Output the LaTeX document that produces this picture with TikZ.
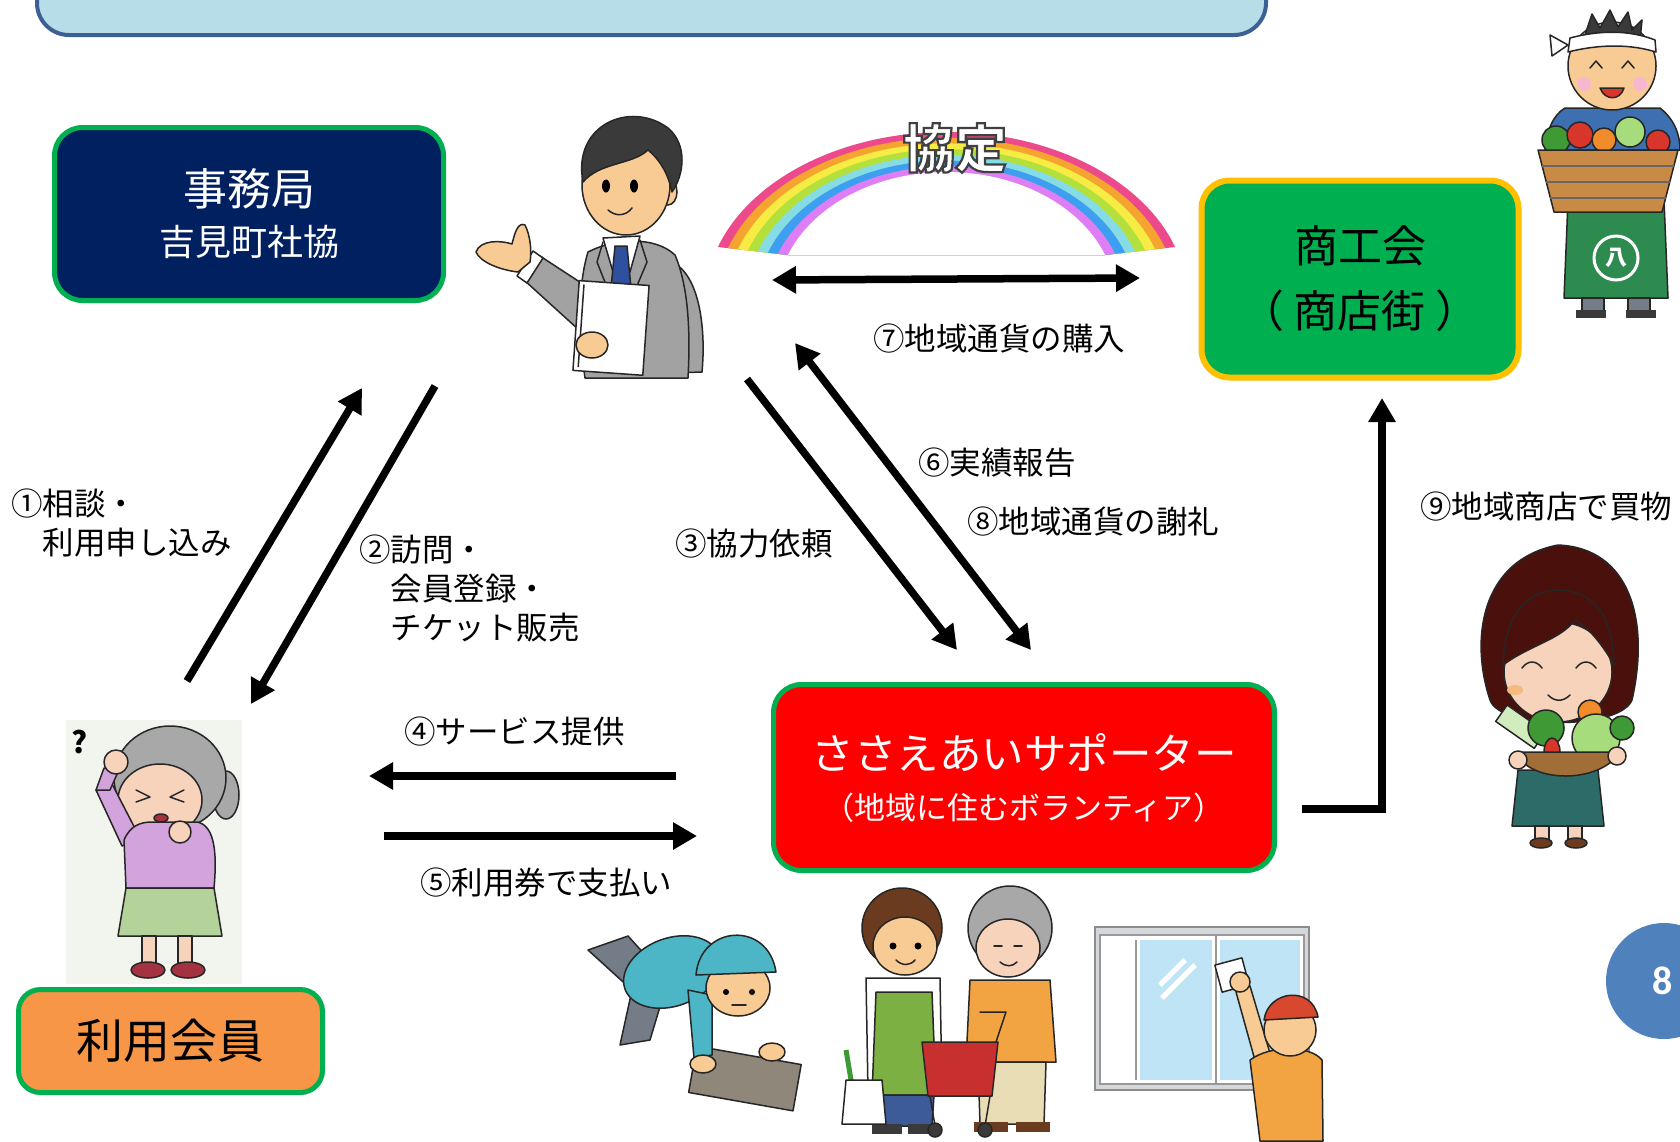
\documentclass[tikz,border=0pt]{standalone}
\usepackage{fontspec}
\setmainfont{Noto Sans CJK JP}
\newfontfamily\badgefont{Carlito}
\usetikzlibrary{arrows.meta}

\definecolor{bannerfill}{HTML}{B7DDE8}
\definecolor{bannerline}{HTML}{3C6096}
\definecolor{officenavy}{HTML}{002060}
\definecolor{framegreen}{HTML}{00B050}
\definecolor{framegold}{HTML}{FFC000}
\definecolor{shopgreen}{HTML}{00B050}
\definecolor{supportred}{HTML}{FF0000}
\definecolor{memberorange}{HTML}{F79646}
\definecolor{badgeblue}{HTML}{4F81BD}
\definecolor{rbpink}{HTML}{EC4A8C}
\definecolor{rborange}{HTML}{F5A52F}
\definecolor{rbyellow}{HTML}{F6EC43}
\definecolor{rblime}{HTML}{B3E03C}
\definecolor{rbcyan}{HTML}{86DCE4}
\definecolor{rbblue}{HTML}{3E9FF0}
\definecolor{rbviolet}{HTML}{DF7EF4}
\definecolor{skin}{HTML}{F9CB94}
\definecolor{paleskin}{HTML}{F8D3BC}
\definecolor{suitgray}{HTML}{A2A2A2}
\definecolor{darkhair}{HTML}{3A3A3A}
\definecolor{tieblue}{HTML}{2F4F9F}
\definecolor{grayhair}{HTML}{A8A8A8}
\definecolor{lilac}{HTML}{D3A3DD}
\definecolor{skirtgreen}{HTML}{B4D39A}
\definecolor{shoered}{HTML}{A33340}
\definecolor{photobg}{HTML}{F1F5EE}
\definecolor{shirtblue}{HTML}{3E6FB0}
\definecolor{apron}{HTML}{2E8B50}
\definecolor{basket}{HTML}{C98A45}
\definecolor{vegred}{HTML}{D9362B}
\definecolor{veggreen}{HTML}{3F9A35}
\definecolor{veglight}{HTML}{A6DC7C}
\definecolor{vegorange}{HTML}{F08C2A}
\definecolor{maroonhair}{HTML}{4A100C}
\definecolor{tealskirt}{HTML}{2C6B68}
\definecolor{capteal}{HTML}{4DB6C6}
\definecolor{pantsgray}{HTML}{747C88}
\definecolor{floorcloth}{HTML}{8F877A}
\definecolor{brownhair}{HTML}{6B3B1F}
\definecolor{apronleaf}{HTML}{7DB043}
\definecolor{jeans}{HTML}{3D5A99}
\definecolor{toporange}{HTML}{F2A443}
\definecolor{beige}{HTML}{E8DDB5}
\definecolor{cartred}{HTML}{C8302F}
\definecolor{glassblue}{HTML}{BFE4F6}
\definecolor{sillgray}{HTML}{D5D8DB}
\definecolor{capred}{HTML}{D8482F}

% white letters with a dark rim (PDF text render mode: fill, then stroke)
\newcommand{\rimtext}[1]{\special{pdf:literal direct 2 Tr 2.2 w 0.25 G 1 g}#1\special{pdf:literal direct 0 Tr 0 G 0 g}}

\begin{document}
\begin{tikzpicture}[x=1pt,y=-1pt,
  box/.style={line width=5pt, rounded corners=28pt, align=center, inner sep=0pt},
  flow/.style={line width=7.5pt, -{Triangle[length=24pt,width=26pt]}},
  both/.style={line width=7.5pt, {Triangle[length=24pt,width=26pt]}-{Triangle[length=24pt,width=26pt]}},
  lbl/.style={font=\fontsize{31.5}{39}\selectfont, anchor=west, inner sep=0pt, align=left},
  ink/.style={draw=black!85, line width=1.5pt, line join=round, line cap=round},
]
\useasboundingbox (0,0) rectangle (1680,1141);
\fill[white] (0,0) rectangle (1680,1141);

% title banner running off the top edge
\draw[bannerline, fill=bannerfill, line width=4pt, rounded corners=32pt] (37,-60) rectangle (1266,35);

% ---------- rainbow with the word of agreement ----------
\begin{scope}
  \clip (650,60) -- (1250,60) -- (1250,247) -- (1175,247) -- (1105,255) -- (788,255) -- (718,247) -- (650,247) -- cycle;
  \foreach \c [count=\i from 0] in {rbpink,rborange,rbyellow,rblime,rbcyan,rbblue,rbviolet,white} {
    \pgfmathsetmacro\ra{240.8-\i*(240.8-169.3)/7}
    \pgfmathsetmacro\rb{168-\i*(168-128)/7}
    \fill[\c] (946.5,300) ellipse[x radius=\ra pt, y radius=\rb pt];
  }
\end{scope}
\node[font=\bfseries\fontsize{52}{52}\selectfont] (pact) at (955,148) {\rimtext{協定}};

% ---------- staff member of the office ----------
\begin{scope}
  \filldraw[ink, fill=suitgray] (672,262) .. controls (700,275) and (706,330) .. (702,372) -- (640,374) -- (645,330) -- cycle;
  \filldraw[ink, fill=suitgray] (588,252) .. controls (615,238) and (655,236) .. (675,255) .. controls (690,290) and (690,340) .. (688,378) -- (585,378) .. controls (578,330) and (578,285) .. (588,252) -- cycle;
  \filldraw[ink, fill=white] (603,238) -- (640,236) -- (630,272) -- (613,272) -- cycle;
  \filldraw[ink, fill=tieblue] (615,246) -- (627,246) -- (631,288) -- (621,298) -- (611,288) -- cycle;
  \draw[ink] (603,242) -- (597,262) -- (612,300);
  \draw[ink] (640,240) -- (647,262) -- (631,300);
  \filldraw[ink, fill=suitgray] (540,256) -- (592,290) -- (590,340) -- (524,280) -- cycle;
  \filldraw[ink, fill=white] (533,251) -- (543,258) -- (527,283) -- (517,276) -- cycle;
  \filldraw[ink, fill=skin] (518,272) .. controls (500,270) and (480,262) .. (476,252) .. controls (480,240) and (500,240) .. (512,244) .. controls (515,232) and (518,222) .. (525,225) .. controls (530,235) and (532,250) .. (530,262) -- cycle;
  \filldraw[ink, fill=skin] (668,192) ellipse[x radius=9pt, y radius=13pt];
  \filldraw[ink, fill=skin] (626,185) ellipse[x radius=44pt, y radius=50pt];
  \filldraw[ink, fill=darkhair] (583,182) .. controls (572,125) and (630,100) .. (668,128) .. controls (688,145) and (684,175) .. (672,192) .. controls (668,172) and (658,158) .. (648,150) .. controls (632,165) and (600,162) .. (583,182) -- cycle;
  \fill[black] (606,186) ellipse[x radius=4pt, y radius=6.5pt];
  \fill[black] (634,186) ellipse[x radius=4pt, y radius=6.5pt];
  \draw[ink] (608,210) .. controls (616,217) and (626,216) .. (632,208);
  \filldraw[ink, fill=white, rotate around={-4:(612,328)}] (576,283) rectangle (646,373);
  \draw[ink, rotate around={-4:(612,328)}] (581,287) -- (581,369);
  \filldraw[ink, fill=skin] (592,345) ellipse[x radius=16pt, y radius=13pt];
\end{scope}

% ---------- puzzled member ----------
\begin{scope}
  \fill[photobg] (66,720) rectangle (242,984);
  \node[font=\bfseries\fontsize{30}{30}\selectfont] (puzzled) at (80,742) {?};
  \filldraw[ink, fill=grayhair] (226,795) ellipse[x radius=13pt, y radius=24pt];
  \filldraw[ink, fill=grayhair] (170,778) ellipse[x radius=56pt, y radius=52pt];
  \filldraw[ink, fill=paleskin] (160,800) ellipse[x radius=42pt, y radius=36pt];
  \draw[ink] (136,790) -- (150,797) -- (136,802);
  \draw[ink] (184,790) -- (170,797) -- (184,802);
  \filldraw[ink, fill=shoered] (161,818) ellipse[x radius=7pt, y radius=4pt];
  \filldraw[ink, fill=lilac] (96,790) -- (110,780) -- (140,838) -- (122,846) -- cycle;
  \filldraw[ink, fill=lilac] (96,790) -- (104,768) -- (118,772) -- (110,790) -- cycle;
  \filldraw[ink, fill=paleskin] (116,762) circle[radius=12pt];
  \filldraw[ink, fill=lilac] (124,840) .. controls (130,826) and (140,822) .. (152,822) -- (198,822) .. controls (212,826) and (218,845) .. (214,888) -- (126,888) -- cycle;
  \filldraw[ink, fill=paleskin] (180,832) circle[radius=11pt];
  \filldraw[ink, fill=skirtgreen] (126,888) -- (214,888) -- (222,936) -- (118,936) -- cycle;
  \filldraw[ink, fill=paleskin] (142,936) rectangle (156,964);
  \filldraw[ink, fill=paleskin] (178,936) rectangle (192,964);
  \filldraw[ink, fill=shoered] (148,970) ellipse[x radius=17pt, y radius=8pt];
  \filldraw[ink, fill=shoered] (188,970) ellipse[x radius=17pt, y radius=8pt];
\end{scope}

% ---------- shopkeeper with a basket ----------
\begin{scope}
  \filldraw[ink, fill=shirtblue] (1565,108) -- (1660,108) .. controls (1675,120) and (1680,135) .. (1680,150) -- (1545,150) .. controls (1547,130) and (1553,115) .. (1565,108) -- cycle;
  \filldraw[ink, fill=skin] (1612,66) circle[radius=44pt];
  \filldraw[ink, fill=darkhair] (1585,35) -- (1592,14) -- (1600,28) -- (1610,10) -- (1618,27) -- (1628,12) -- (1632,30) -- (1642,20) -- (1640,40) -- cycle;
  \filldraw[ink, fill=white] (1570,38) .. controls (1600,30) and (1630,30) .. (1655,40) -- (1656,52) .. controls (1630,44) and (1600,44) .. (1568,52) -- cycle;
  \filldraw[ink, fill=white] (1568,45) -- (1550,35) -- (1552,56) -- cycle;
  \draw[ink] (1590,68) -- (1596,61) -- (1602,68);
  \draw[ink] (1622,68) -- (1628,61) -- (1634,68);
  \fill[rbpink!40] (1584,84) circle[radius=7pt];
  \fill[rbpink!40] (1640,84) circle[radius=7pt];
  \filldraw[ink, fill=vegred] (1600,88) .. controls (1605,101) and (1620,101) .. (1624,88) -- cycle;
  \filldraw[ink, fill=apron] (1568,200) -- (1664,200) -- (1668,298) -- (1564,298) -- cycle;
  \filldraw[draw=white, line width=3pt, fill=apron] (1616,258) circle[radius=22pt];
  \node[text=white, font=\bfseries\fontsize{22}{22}\selectfont] (shopmark) at (1616,258) {八};
  \filldraw[ink, fill=pantsgray] (1582,298) rectangle (1604,312);
  \filldraw[ink, fill=pantsgray] (1628,298) rectangle (1650,312);
  \fill[darkhair] (1576,310) rectangle (1606,318);
  \fill[darkhair] (1626,310) rectangle (1656,318);
  \filldraw[ink, fill=veggreen] (1556,140) circle[radius=14pt];
  \filldraw[ink, fill=vegred] (1580,135) circle[radius=13pt];
  \filldraw[ink, fill=vegorange] (1604,140) circle[radius=12pt];
  \filldraw[ink, fill=veglight] (1630,132) circle[radius=15pt];
  \filldraw[ink, fill=vegred] (1658,142) circle[radius=12pt];
  \filldraw[ink, fill=basket] (1538,150) -- (1678,150) -- (1662,212) -- (1554,212) -- cycle;
  \draw[black!60, line width=1.2pt] (1542,166) -- (1674,166) (1546,182) -- (1670,182) (1550,198) -- (1666,198);
\end{scope}

% ---------- shopper holding vegetables ----------
\begin{scope}
  \filldraw[ink, fill=maroonhair] (1490,700) .. controls (1470,640) and (1480,560) .. (1558,545) .. controls (1630,548) and (1650,620) .. (1632,700) .. controls (1620,730) and (1500,730) .. (1490,700) -- cycle;
  \filldraw[ink, fill=paleskin] (1558,672) ellipse[x radius=54pt, y radius=50pt];
  \filldraw[ink, fill=maroonhair] (1503,665) .. controls (1505,610) and (1530,590) .. (1560,590) .. controls (1595,592) and (1612,615) .. (1614,665) .. controls (1600,640) and (1585,625) .. (1575,620) .. controls (1560,640) and (1530,645) .. (1503,665) -- cycle;
  \draw[ink] (1522,668) .. controls (1528,660) and (1536,660) .. (1542,668);
  \draw[ink] (1576,668) .. controls (1582,660) and (1590,660) .. (1596,668);
  \draw[ink] (1548,695) .. controls (1555,702) and (1563,702) .. (1570,695);
  \fill[vegorange!60] (1515,690) ellipse[x radius=8pt, y radius=5pt];
  \filldraw[ink, fill=tealskirt] (1518,770) -- (1598,770) -- (1604,826) -- (1512,826) -- cycle;
  \filldraw[ink, fill=paleskin] (1535,826) rectangle (1549,840);
  \filldraw[ink, fill=paleskin] (1568,826) rectangle (1582,840);
  \filldraw[ink, fill=brownhair] (1541,843) ellipse[x radius=11pt, y radius=5pt];
  \filldraw[ink, fill=brownhair] (1576,843) ellipse[x radius=11pt, y radius=5pt];
  \filldraw[ink, fill=veglight!50!white, rotate around={-35:(1520,725)}] (1498,716) rectangle (1545,736);
  \filldraw[ink, fill=veggreen] (1546,728) circle[radius=18pt];
  \filldraw[ink, fill=vegorange] (1590,712) circle[radius=12pt];
  \filldraw[ink, fill=veglight] (1596,738) circle[radius=24pt];
  \filldraw[ink, fill=veggreen] (1622,728) circle[radius=12pt];
  \filldraw[ink, fill=vegred] (1552,752) ellipse[x radius=8pt, y radius=14pt];
  \filldraw[ink, fill=basket!80!black] (1515,752) .. controls (1530,784) and (1600,784) .. (1620,752) -- cycle;
  \filldraw[ink, fill=paleskin] (1518,760) circle[radius=9pt];
  \filldraw[ink, fill=paleskin] (1617,756) circle[radius=9pt];
\end{scope}

% ---------- volunteer wiping the floor ----------
\begin{scope}
  \filldraw[ink, fill=floorcloth, rotate around={-10:(745,1078)}] (692,1055) rectangle (798,1102);
  \filldraw[ink, fill=pantsgray] (588,950) -- (628,936) -- (668,980) -- (650,1040) -- (620,1045) -- (632,990) -- cycle;
  \filldraw[ink, fill=capteal, rotate around={20:(672,972)}] (672,972) ellipse[x radius=50pt, y radius=34pt];
  \filldraw[ink, fill=capteal] (688,990) -- (712,995) -- (712,1055) -- (694,1058) -- cycle;
  \filldraw[ink, fill=skin] (703,1064) ellipse[x radius=13pt, y radius=9pt];
  \filldraw[ink, fill=skin] (772,1052) ellipse[x radius=13pt, y radius=9pt];
  \filldraw[ink, fill=skin] (738,988) ellipse[x radius=32pt, y radius=28pt];
  \filldraw[ink, fill=capteal] (696,975) .. controls (700,925) and (768,920) .. (776,972) -- cycle;
  \fill[black] (726,992) circle[radius=3pt];
  \fill[black] (752,992) circle[radius=3pt];
  \draw[ink] (732,1005) -- (746,1005);
\end{scope}

% ---------- volunteer helping with shopping ----------
\begin{scope}
  \filldraw[ink, fill=brownhair] (902,928) circle[radius=40pt];
  \filldraw[ink, fill=skin] (905,946) ellipse[x radius=32pt, y radius=29pt];
  \fill[black] (893,946) circle[radius=3.5pt];
  \fill[black] (918,946) circle[radius=3.5pt];
  \draw[ink] (896,960) .. controls (902,966) and (910,966) .. (915,960);
  \filldraw[ink, fill=white] (866,978) -- (940,978) -- (942,1092) -- (868,1092) -- cycle;
  \filldraw[ink, fill=apronleaf] (876,992) -- (932,992) -- (936,1095) -- (872,1095) -- cycle;
  \filldraw[ink, fill=jeans] (876,1095) -- (934,1095) -- (932,1126) -- (878,1126) -- cycle;
  \fill[darkhair] (872,1124) rectangle (902,1134);
  \fill[darkhair] (908,1124) rectangle (938,1134);
  \draw[veggreen, line width=5pt] (852,1086) -- (846,1050);
  \filldraw[ink, fill=white] (846,1080) -- (882,1080) -- (886,1124) -- (842,1124) -- cycle;
  \filldraw[ink, fill=grayhair] (1010,928) circle[radius=42pt];
  \filldraw[ink, fill=paleskin] (1008,948) ellipse[x radius=32pt, y radius=29pt];
  \draw[ink] (994,946) -- (1002,946) (1014,946) -- (1022,946);
  \draw[ink] (1000,962) .. controls (1006,967) and (1012,967) .. (1017,962);
  \filldraw[ink, fill=toporange] (970,980) -- (1050,980) -- (1056,1062) -- (966,1062) -- cycle;
  \filldraw[ink, fill=beige] (978,1062) -- (1046,1062) -- (1044,1124) -- (980,1124) -- cycle;
  \fill[brownhair] (974,1122) rectangle (1008,1132);
  \fill[brownhair] (1016,1122) rectangle (1050,1132);
  \draw[ink] (996,1042) -- (1006,1012) -- (980,1012);
  \filldraw[ink, fill=cartred] (922,1042) -- (998,1042) -- (992,1096) -- (928,1096) -- cycle;
  \draw[ink] (930,1096) -- (935,1126) (990,1096) -- (985,1126);
  \filldraw[ink, fill=darkhair] (935,1130) circle[radius=7pt];
  \filldraw[ink, fill=darkhair] (985,1130) circle[radius=7pt];
\end{scope}

% ---------- volunteer cleaning a window ----------
\begin{scope}
  \filldraw[draw=black!45, line width=1.5pt, fill=sillgray] (1095,927) rectangle (1309,1090);
  \fill[white] (1100,935) rectangle (1304,1084);
  \fill[glassblue] (1140,940) rectangle (1212,1080);
  \fill[glassblue] (1220,940) rectangle (1300,1080);
  \draw[black!40, line width=1.2pt] (1100,935) rectangle (1304,1084) (1136,940) -- (1136,1080) (1216,935) -- (1216,1084);
  \draw[white, line width=5pt] (1160,985) -- (1185,960) (1162,998) -- (1195,965);
  \filldraw[ink, fill=white, rotate around={15:(1232,975)}] (1218,961) rectangle (1246,989);
  \filldraw[ink, fill=skin] (1236,992) -- (1250,986) -- (1272,1060) -- (1256,1064) -- cycle;
  \filldraw[ink, fill=skin] (1240,982) circle[radius=10pt];
  \filldraw[ink, fill=toporange] (1250,1060) .. controls (1270,1045) and (1310,1045) .. (1322,1060) -- (1323,1141) -- (1260,1141) -- cycle;
  \filldraw[ink, fill=skin] (1290,1030) circle[radius=26pt];
  \filldraw[ink, fill=capred] (1264,1020) .. controls (1268,990) and (1312,985) .. (1318,1017) -- cycle;
\end{scope}

% ---------- organisations ----------
\node[box, draw=framegreen, fill=officenavy, text=white, minimum width=389pt, minimum height=173pt,
      font=\fontsize{36}{50}\selectfont] (office) at (249,214) {{\fontsize{44}{50}\selectfont 事務局}\\吉見町社協};
\node[box, draw=framegold, line width=6pt, fill=shopgreen, text=black, minimum width=317pt, minimum height=197pt,
      font=\fontsize{44}{65}\selectfont] (shops) at (1360,279) {商工会\\（ 商店街 ）};
\node[box, draw=framegreen, fill=supportred, text=white, minimum width=501pt, minimum height=186pt,
      font=\fontsize{31}{50}\selectfont] (supporters) at (1024,777.5) {{\fontsize{42.5}{50}\selectfont ささえあいサポーター}\\（地域に住むボランティア）};
\node[box, draw=framegreen, fill=memberorange, text=black, rounded corners=22pt, minimum width=304pt, minimum height=103pt,
      font=\fontsize{47}{50}\selectfont] (member) at (170.5,1041) {利用会員};

% ---------- connector ends ----------
\coordinate (c1a) at (187,681);  \coordinate (c1b) at (362,388);
\coordinate (c2a) at (435,386);  \coordinate (c2b) at (251,704);
\coordinate (c3a) at (747,379);  \coordinate (c3b) at (957,650);
\coordinate (c6a) at (795,343);  \coordinate (c6b) at (1031,650);
\coordinate (c7a) at (772,280);  \coordinate (c7b) at (1140,278);
\coordinate (c4a) at (676,776);  \coordinate (c4b) at (369,776);
\coordinate (c5a) at (384,836);  \coordinate (c5b) at (697,836);
\coordinate (c9a) at (1302,809); \coordinate (c9k) at (1382,809); \coordinate (c9b) at (1382,398);

\draw[flow] (c1a) -- (c1b);
\draw[flow] (c2a) -- (c2b);
\draw[flow] (c3a) -- (c3b);
\draw[both] (c6a) -- (c6b);
\draw[both] (c7a) -- (c7b);
\draw[flow] (c4a) -- (c4b);
\draw[flow] (c5a) -- (c5b);
\draw[flow] (c9a) -- (c9k) -- (c9b);

% ---------- step labels ----------
\node[lbl] (l1) at (11,523) {①相談・\\　利用申し込み};
\node[lbl] (l2) at (359,588) {②訪問・\\　会員登録・\\　チケット販売};
\node[lbl] (l3) at (675,544) {③協力依頼};
\node[lbl] (l6) at (918,463) {⑥実績報告};
\node[lbl] (l8) at (967,522) {⑧地域通貨の謝礼};
\node[lbl] (l7) at (873,339) {⑦地域通貨の購入};
\node[lbl] (l4) at (404,732) {④サービス提供};
\node[lbl] (l5) at (420,883) {⑤利用券で支払い};
\node[lbl] (l9) at (1420,507) {⑨地域商店で買物};

% ---------- page badge ----------
\fill[badgeblue] (1664,981) circle[radius=58pt];
\node[text=white, font=\badgefont\bfseries\fontsize{40}{40}\selectfont] (page) at (1663,981) {8};
\end{tikzpicture}
\end{document}
